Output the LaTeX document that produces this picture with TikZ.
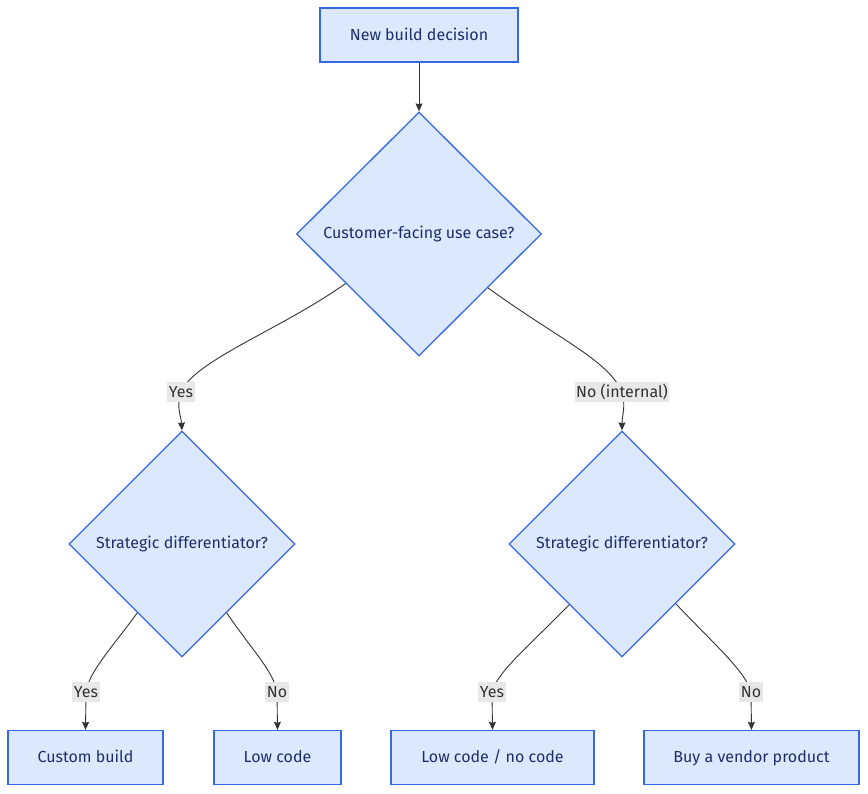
\documentclass[tikz,border=0pt]{standalone}
\usepackage{fontspec}
\setmainfont{Fira Sans}
\usetikzlibrary{shapes.geometric,arrows.meta,calc}
\definecolor{boxfill}{HTML}{DBE8FD}
\definecolor{boxline}{HTML}{3469E3}
\definecolor{boxtext}{HTML}{1F2E6B}
\definecolor{lblfill}{HTML}{E8E8E8}
\definecolor{edgecol}{HTML}{333333}

\begin{document}
\begin{tikzpicture}[x=1pt, y=-1pt, >={Stealth[length=8pt,width=7pt,inset=1pt]},
    box/.style={draw=boxline, fill=boxfill, line width=1.3pt, text=boxtext,
        font=\fontsize{16}{19}\selectfont, minimum height=54pt, inner sep=0pt,
        text height=12.5pt, text depth=2pt},
    choice/.style={diamond, draw=boxline, fill=boxfill, line width=1.3pt, text=boxtext,
        font=\fontsize{16}{19}\selectfont, inner sep=0pt, aspect=1},
    lbl/.style={fill=lblfill, text=edgecol, font=\fontsize{16}{19}\selectfont,
        inner xsep=1.5pt, inner ysep=2.5pt, text height=12.5pt, text depth=2pt},
    edge/.style={draw=edgecol, line width=0.9pt}]
    \useasboundingbox (0,0) rectangle (868,793);

    % Nodes
    \node[box, minimum width=198pt] (start) at (419,35) {New build decision};
    \node[choice, minimum width=245pt, minimum height=244pt] (cust) at (419,234) {Customer-facing use case?};
    \node[choice, minimum width=226pt, minimum height=226pt] (stratL) at (182,544) {Strategic differentiator?};
    \node[choice, minimum width=226pt, minimum height=226pt] (stratR) at (622,544) {Strategic differentiator?};
    \node[box, minimum width=155pt] (custom) at (85.5,757.5) {Custom build};
    \node[box, minimum width=127pt] (lowcode) at (277.5,757.5) {Low code};
    \node[box, minimum width=203pt] (nocode) at (492.5,757.5) {Low code / no code};
    \node[box, minimum width=215pt] (vendor) at (751.5,757.5) {Buy a vendor product};

    % Label positions
    \coordinate (yesA) at (181,392);
    \coordinate (noA) at (622,392);
    \coordinate (yesL) at (86,692);
    \coordinate (noL) at (277,692);
    \coordinate (yesR) at (492,692);
    \coordinate (noR) at (751,692);

    % Connectors
    \draw[edge, ->] (start) -- (cust.north);
    \draw[edge, ->] (cust.214) .. controls (280,330) and (195,360) .. (yesA)
        .. controls (176,408) and (181,415) .. (stratL.north);
    \draw[edge, ->] (cust.-38) .. controls (560,340) and (608,360) .. (noA)
        .. controls (626,408) and (622,415) .. (stratR.north);
    \draw[edge, ->] (stratL.-123) .. controls (110,650) and (89,672) .. (yesL) -- (custom.north);
    \draw[edge, ->] (stratL.-57) .. controls (252,650) and (274,672) .. (noL) -- (lowcode.north);
    \draw[edge, ->] (stratR.-131) .. controls (530,645) and (497,672) .. (yesR) -- (nocode.north);
    \draw[edge, ->] (stratR.-48) .. controls (715,645) and (746,672) .. (noR) -- (vendor.north);

    % Edge labels
    \node[lbl] (tyesA) at (yesA) {Yes};
    \node[lbl] (tnoA) at (noA) {No (internal)};
    \node[lbl] (tyesL) at (yesL) {Yes};
    \node[lbl] (tnoL) at (noL) {No};
    \node[lbl] (tyesR) at (yesR) {Yes};
    \node[lbl] (tnoR) at (noR) {No};
\end{tikzpicture}
\end{document}
